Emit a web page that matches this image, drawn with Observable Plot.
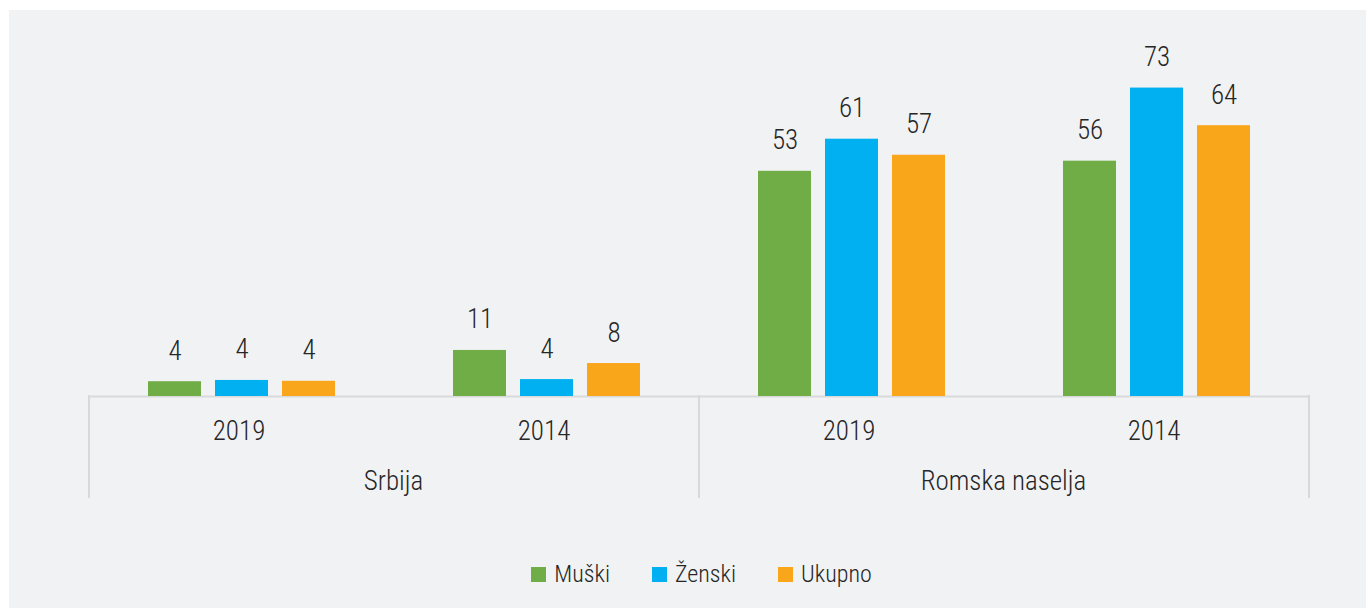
<!DOCTYPE html>
<html><head><meta charset="utf-8">
<script src="https://cdn.jsdelivr.net/npm/d3@7"></script>
<script src="https://cdn.jsdelivr.net/npm/@observablehq/plot@0.6"></script>
<style>
html,body{margin:0;padding:0;background:#fff;}
#panel{position:absolute;left:9px;top:10px;width:1357px;height:598px;background:#f1f2f4;
  font-family:"Roboto Condensed","DejaVu Sans Condensed","Liberation Sans Narrow",Roboto,sans-serif;font-stretch:condensed;font-weight:300;color:#262626;}
#legend{display:flex;justify-content:center;align-items:center;margin-top:19px;padding-left:28px;font-size:24px;line-height:30px;}
.item{display:flex;align-items:center;margin:0 21px;}
.sw{width:15px;height:15px;margin-right:8px;}
</style></head><body><div id="panel"></div>
<script>
const groups = ["Srbija 2019", "Srbija 2014", "Romska naselja 2019", "Romska naselja 2014"];
const regions = ["Srbija", "Srbija", "Romska naselja", "Romska naselja"];
const years = ["2019", "2014", "2019", "2014"];
const series = ["Muški", "Ženski", "Ukupno"];
const colors = ["#70ad47", "#00b0f0", "#faa61a"];
const muski = [3.5, 10.9, 53.3, 55.7];
const zenski = [3.8, 4.0, 60.9, 73.0];
const ukupno = [3.6, 7.8, 57.1, 64.1];

const FONT = '"Roboto Condensed","DejaVu Sans Condensed","Liberation Sans Narrow",Roboto,sans-serif';
const values = [muski, zenski, ukupno];
const data = [];
groups.forEach((g, i) => series.forEach((s, j) => data.push({group: g, region: regions[i], year: years[i], series: s, value: values[j][i]})));
const groupRows = groups.map((g, i) => ({group: g, year: years[i], region: regions[i]}));
const regionRows = groupRows.filter((d, i) => i === 0 || regions[i] !== regions[i - 1]);

const chart = Plot.plot({
  width: 1357, height: 530,
  marginLeft: 80, marginRight: 57, marginTop: 48, marginBottom: 144,
  style: {background: "transparent", fontFamily: FONT, fontSize: "27px", color: "#262626", fontStretch: "condensed", fontWeight: 300},
  fx: {domain: groups, padding: 0, axis: null},
  x: {domain: series, paddingInner: 0.215, paddingOuter: 0.867, axis: null},
  y: {domain: [0, 80], axis: null},
  color: {domain: series, range: colors},
  marks: [
    Plot.ruleY([0], {stroke: "#d9d9d9", strokeWidth: 2}),
    Plot.barY(data, {fx: "group", x: "series", y: "value", fill: "series"}),
    Plot.text(data, {fx: "group", x: "series", y: "value", text: d => String(Math.round(d.value)), lineAnchor: "bottom", dy: -22, fill: "#262626"}),
    Plot.text(groupRows, {fx: "group", text: "year", frameAnchor: "bottom", lineAnchor: "bottom", dy: 43, dx: -3, fill: "#262626"}),
    Plot.text(regionRows, {fx: "group", text: "region", frameAnchor: "bottom-right", textAnchor: "middle", lineAnchor: "bottom", dy: 93, dx: -1, fill: "#262626"})
  ]
});

const fx = chart.scale("fx"), y = chart.scale("y");
const y0 = y.apply(0);
const seps = [fx.apply(groups[0]), fx.apply(groups[2]), fx.apply(groups[3]) + fx.bandwidth];
d3.select(chart).append("g").selectAll("line").data(seps).join("line")
  .attr("x1", d => d).attr("x2", d => d).attr("y1", y0 - 1).attr("y2", y0 + 102)
  .attr("stroke", "#d9d9d9").attr("stroke-width", 2);

const panel = document.getElementById("panel");
panel.appendChild(chart);
const legend = d3.select(panel).append("div").attr("id", "legend");
const items = legend.selectAll(".item").data(series).join("div").attr("class", "item");
items.append("div").attr("class", "sw").style("background", (d, i) => colors[i]);
items.append("span").text(d => d);
</script></body></html>
